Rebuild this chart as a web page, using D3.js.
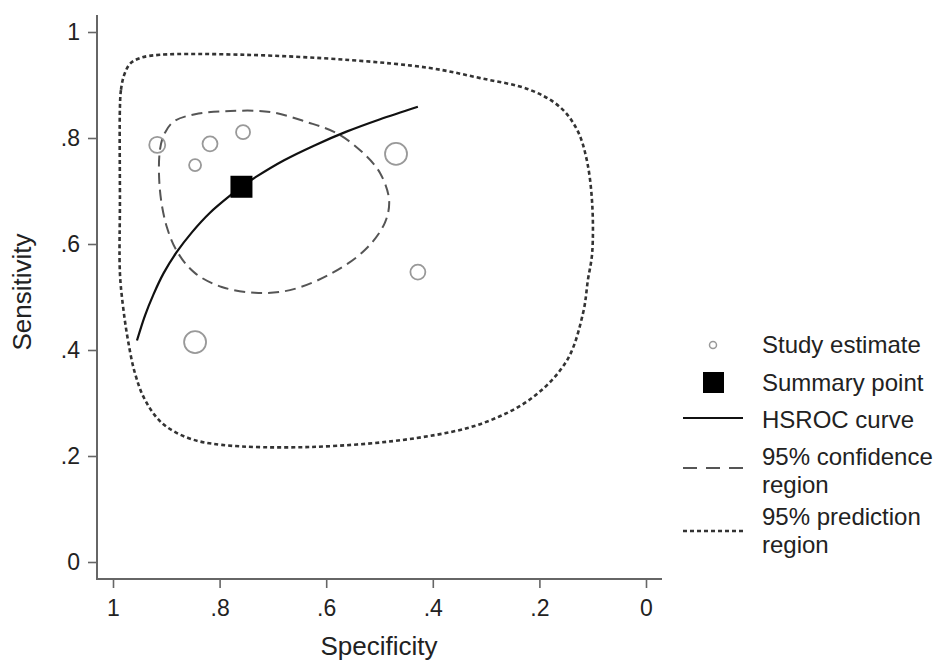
<!DOCTYPE html>
<html>
<head>
<meta charset="utf-8">
<script src="https://cdn.jsdelivr.net/npm/d3@7"></script>
<style>
  body { margin: 0; background: #fff; }
  svg { display: block; font-family: "Liberation Sans", Arial, sans-serif; }
</style>
</head>
<body>
<svg width="950" height="661"></svg>
<script>
// study estimates (specificity, sensitivity, weight -> circle size)
const studySpec = [0.917, 0.846, 0.818, 0.756, 0.469, 0.428, 0.846];
const studySens = [0.787, 0.749, 0.789, 0.811, 0.770, 0.547, 0.415];
const studyWeight = [64, 36, 56, 49, 121, 56, 121];

// summary point
const summarySpec = 0.759;
const summarySens = 0.708;

// HSROC curve
const hsrocSpec = [0.955, 0.940, 0.924, 0.905, 0.881, 0.852, 0.818, 0.777, 0.759, 0.731, 0.679, 0.622, 0.562, 0.500, 0.428];
const hsrocSens = [0.418, 0.465, 0.505, 0.545, 0.584, 0.622, 0.659, 0.694, 0.708, 0.727, 0.758, 0.786, 0.812, 0.835, 0.859];

// 95% confidence region
const confSpec = [0.912, 0.903, 0.886, 0.846, 0.780, 0.705, 0.636, 0.580, 0.531, 0.499, 0.482, 0.490, 0.527, 0.593, 0.668, 0.734, 0.796, 0.846, 0.878, 0.899, 0.912];
const confSens = [0.777, 0.809, 0.831, 0.845, 0.851, 0.849, 0.830, 0.809, 0.772, 0.734, 0.683, 0.640, 0.589, 0.543, 0.513, 0.508, 0.519, 0.545, 0.583, 0.632, 0.702];

// 95% prediction region
const predSpec = [0.987, 0.985, 0.979, 0.968, 0.949, 0.912, 0.752, 0.555, 0.405, 0.311, 0.218, 0.161, 0.129, 0.111, 0.101, 0.101, 0.109, 0.118, 0.148, 0.212, 0.306, 0.430, 0.630, 0.796, 0.859, 0.908, 0.940, 0.959, 0.972, 0.981, 0.987, 0.987];
const predSens = [0.858, 0.891, 0.919, 0.940, 0.951, 0.957, 0.957, 0.947, 0.932, 0.913, 0.891, 0.858, 0.815, 0.758, 0.677, 0.583, 0.532, 0.470, 0.381, 0.311, 0.262, 0.234, 0.217, 0.221, 0.234, 0.262, 0.306, 0.357, 0.419, 0.481, 0.545, 0.683];

const xTicks = [1, 0.8, 0.6, 0.4, 0.2, 0];
const yTicks = [0, 0.2, 0.4, 0.6, 0.8, 1];
const legendLabels = [["Study estimate"], ["Summary point"], ["HSROC curve"], ["95% confidence", "region"], ["95% prediction", "region"]];

const svg = d3.select("svg");
const x = d3.scaleLinear().domain([1, 0]).range([113, 646]);
const y = d3.scaleLinear().domain([0, 1]).range([562, 32]);
const r = d3.scaleSqrt().domain([0, 121]).range([0, 11]);
const fmt = d => d === 0 ? "0" : d === 1 ? "1" : d3.format(".1f")(d).replace(/^0/, "");

const axisColor = "#666";
const textColor = "#222";

// axes
const xAxis = svg.append("g").attr("transform", "translate(0,579)")
  .call(d3.axisBottom(x).tickValues(xTicks).tickFormat(fmt).tickSize(9).tickPadding(12).tickSizeOuter(0));
const yAxis = svg.append("g").attr("transform", "translate(97,0)")
  .call(d3.axisLeft(y).tickValues(yTicks).tickFormat(fmt).tickSize(9).tickPadding(8).tickSizeOuter(0));
[xAxis, yAxis].forEach(a => {
  a.select(".domain").remove();
  a.selectAll("line").attr("stroke", axisColor).attr("stroke-width", 1.6);
  a.selectAll("text").attr("fill", textColor).attr("font-size", 23).attr("font-family", "Liberation Sans, Arial, sans-serif");
});
svg.append("line").attr("x1", 97).attr("x2", 97).attr("y1", 15).attr("y2", 580)
  .attr("stroke", axisColor).attr("stroke-width", 2);
svg.append("line").attr("x1", 96).attr("x2", 662).attr("y1", 579).attr("y2", 579)
  .attr("stroke", axisColor).attr("stroke-width", 2);

svg.append("text").attr("x", 379).attr("y", 655).attr("text-anchor", "middle")
  .attr("font-size", 26).attr("fill", textColor).text("Specificity");
svg.append("text").attr("transform", "translate(31,292) rotate(-90)").attr("text-anchor", "middle")
  .attr("font-size", 26).attr("fill", textColor).text("Sensitivity");

// regions
const closed = d3.line().x(d => x(d[0])).y(d => y(d[1])).curve(d3.curveCatmullRomClosed.alpha(0.5));
svg.append("path").datum(d3.zip(predSpec, predSens)).attr("d", closed)
  .attr("fill", "none").attr("stroke", "#333").attr("stroke-width", 2.6).attr("stroke-dasharray", "4,3");
svg.append("path").datum(d3.zip(confSpec, confSens)).attr("d", closed)
  .attr("fill", "none").attr("stroke", "#555").attr("stroke-width", 2).attr("stroke-dasharray", "11,6");

// HSROC curve
svg.append("path").datum(d3.zip(hsrocSpec, hsrocSens))
  .attr("d", d3.line().x(d => x(d[0])).y(d => y(d[1])).curve(d3.curveCatmullRom))
  .attr("fill", "none").attr("stroke", "#111").attr("stroke-width", 2.2);

// study estimates
svg.append("g").selectAll("circle").data(d3.zip(studySpec, studySens, studyWeight)).join("circle")
  .attr("cx", d => x(d[0])).attr("cy", d => y(d[1])).attr("r", d => r(d[2]))
  .attr("fill", "none").attr("stroke", "#999").attr("stroke-width", 1.8);

// summary point
svg.append("rect").attr("x", x(summarySpec) - 11).attr("y", y(summarySens) - 11)
  .attr("width", 22).attr("height", 22).attr("fill", "#000");

// legend
const legend = svg.append("g").attr("transform", "translate(683,0)");
const rowY = [353, 391, 428, 465, 525];
const item = legend.selectAll("g").data(legendLabels).join("g")
  .attr("transform", (d, i) => `translate(0,${rowY[i]})`);
item.selectAll("text").data(d => d).join("text")
  .attr("x", 79).attr("y", (d, i) => i * 28)
  .attr("font-size", 24).attr("fill", textColor).text(d => d);
legend.append("circle").attr("cx", 30).attr("cy", rowY[0] - 8).attr("r", 3.5)
  .attr("fill", "none").attr("stroke", "#999").attr("stroke-width", 1.5);
legend.append("rect").attr("x", 20).attr("y", rowY[1] - 19).attr("width", 21).attr("height", 21).attr("fill", "#000");
legend.append("line").attr("x1", 0).attr("x2", 60).attr("y1", rowY[2] - 10).attr("y2", rowY[2] - 10)
  .attr("stroke", "#111").attr("stroke-width", 2.2);
legend.append("line").attr("x1", 0).attr("x2", 60).attr("y1", rowY[3] + 3).attr("y2", rowY[3] + 3)
  .attr("stroke", "#555").attr("stroke-width", 2).attr("stroke-dasharray", "14,9");
legend.append("line").attr("x1", 0).attr("x2", 60).attr("y1", rowY[4] + 6).attr("y2", rowY[4] + 6)
  .attr("stroke", "#333").attr("stroke-width", 2.4).attr("stroke-dasharray", "4,3");
</script>
</body>
</html>
